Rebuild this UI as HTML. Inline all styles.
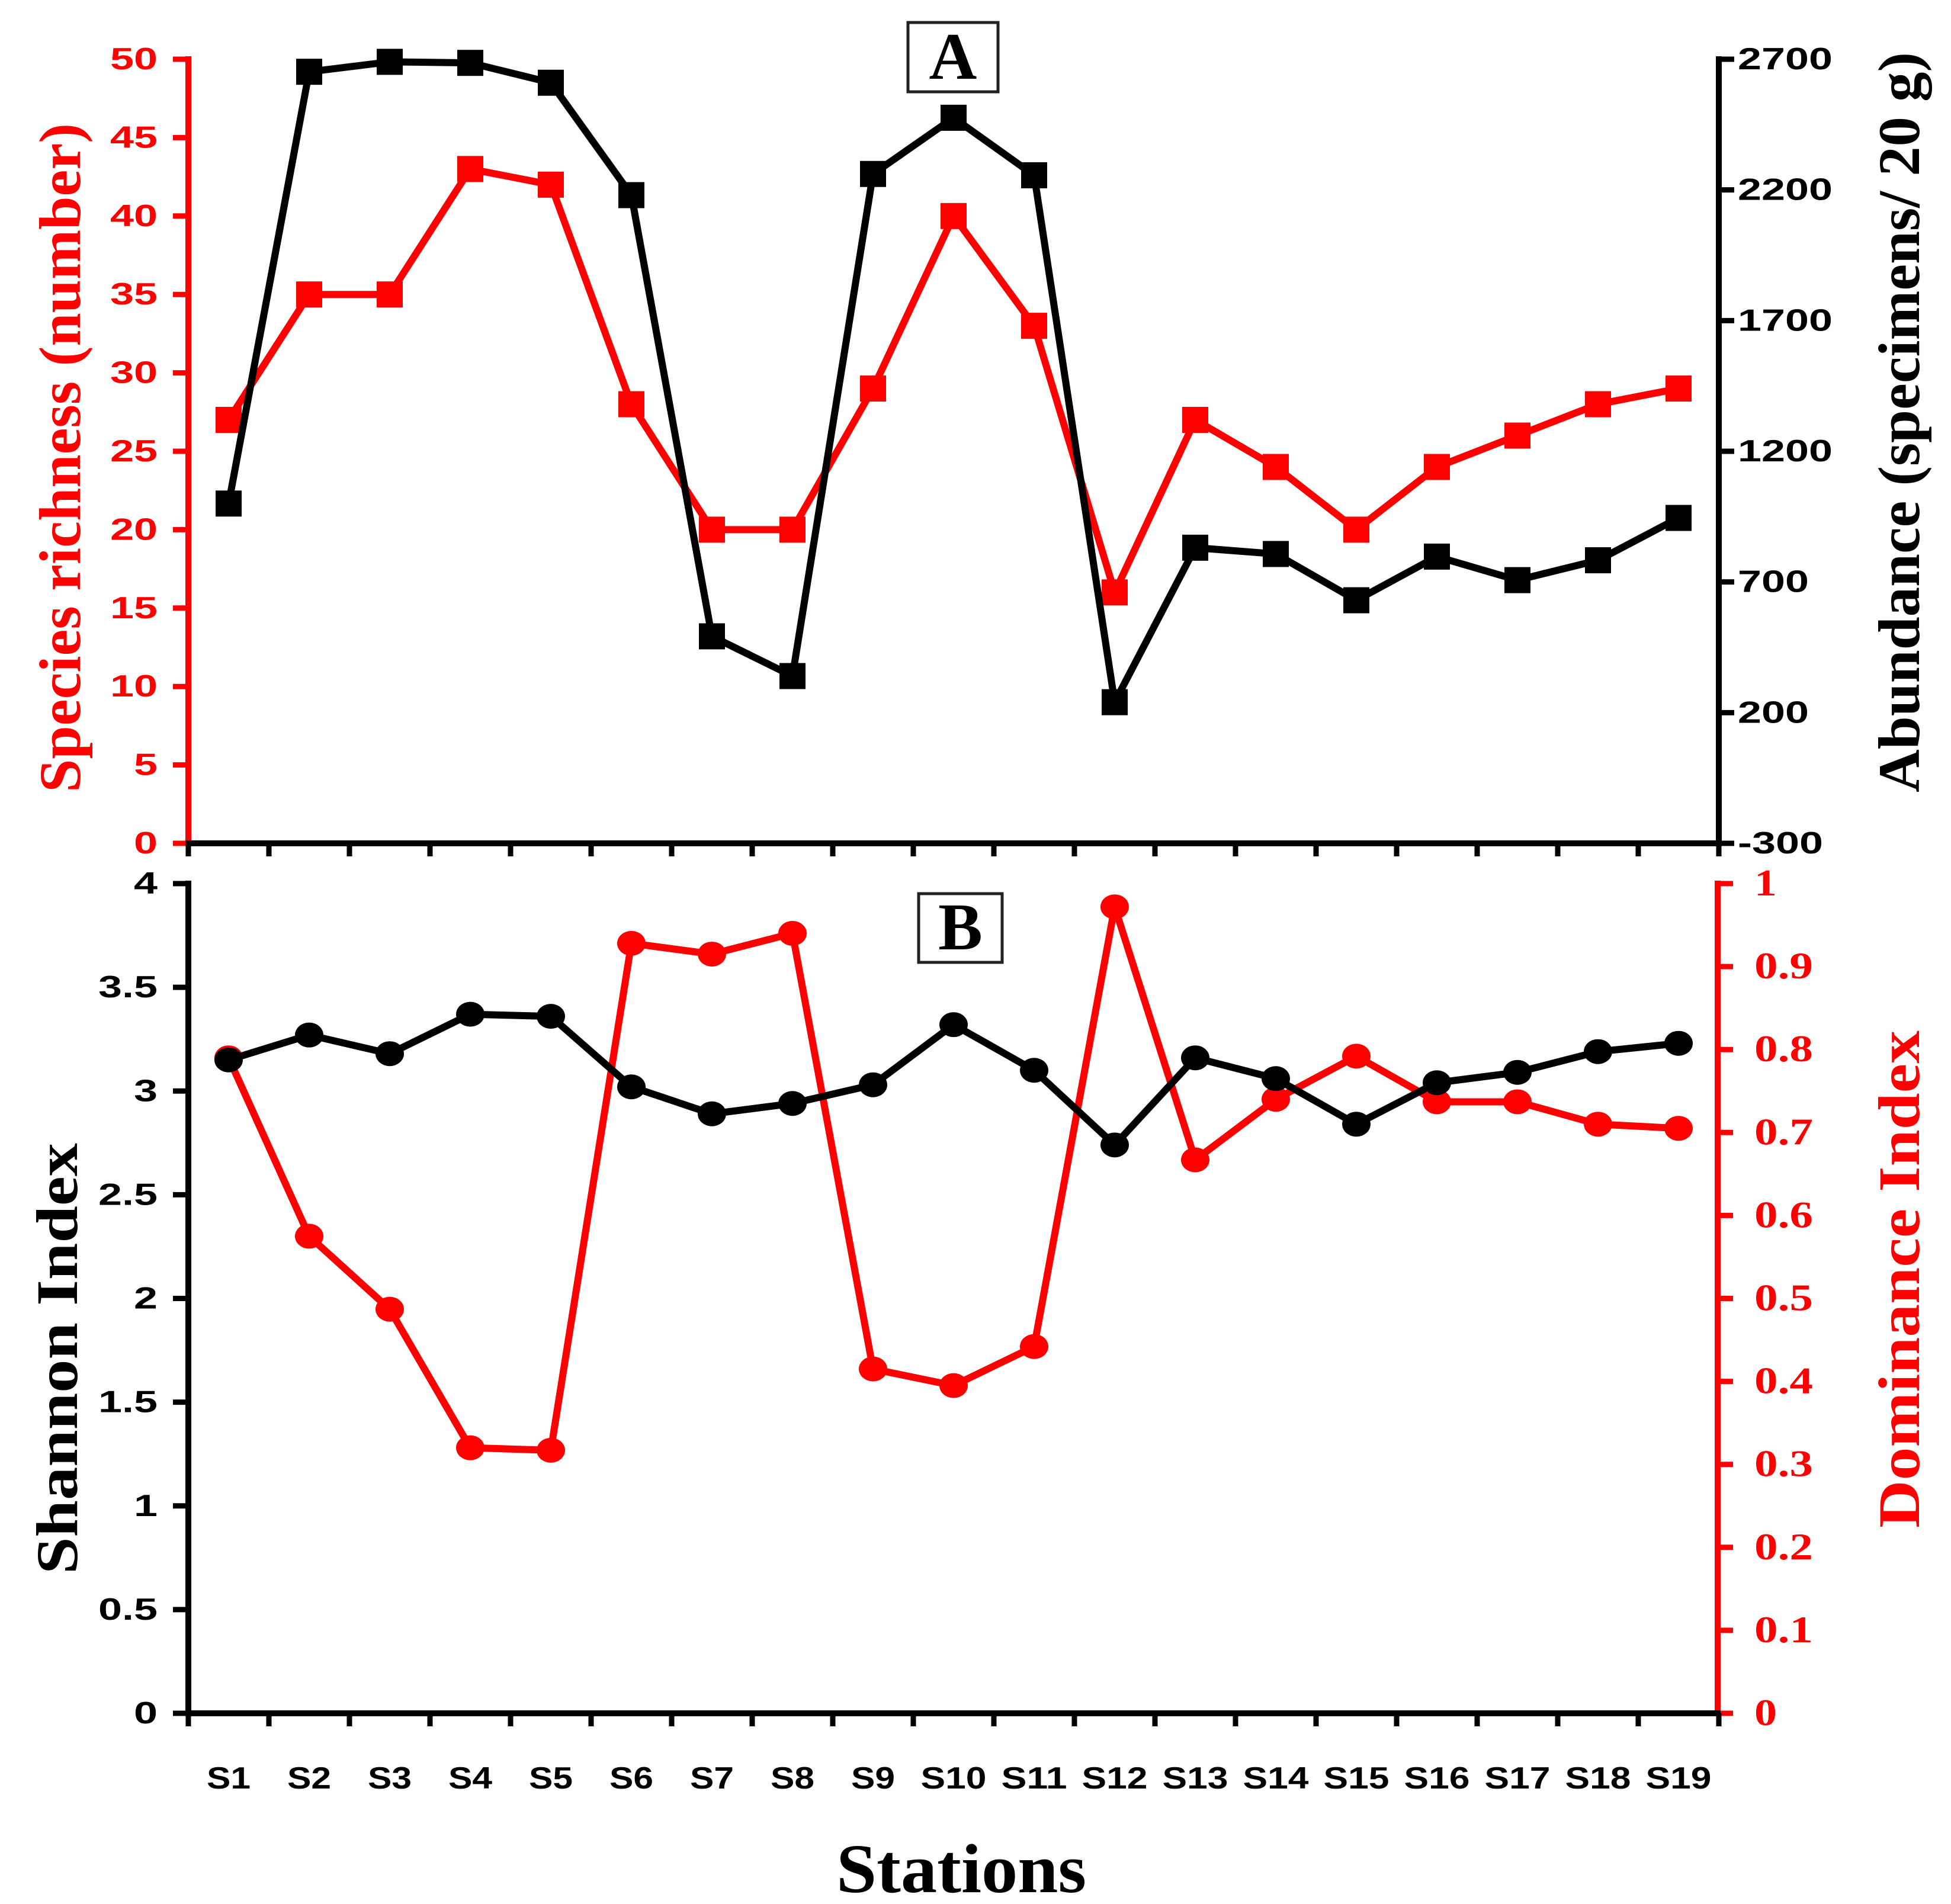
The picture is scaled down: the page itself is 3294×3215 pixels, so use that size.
<!DOCTYPE html>
<html><head><meta charset="utf-8"><style>
html,body{margin:0;padding:0;background:#fff}
svg{display:block}
.tk{font-family:"Liberation Sans",sans-serif;font-weight:bold;font-size:52px}
.ser{font-family:"Liberation Serif",serif;font-weight:bold}
</style></head><body>
<svg id="c" width="3294" height="3215" viewBox="0 0 3294 3215" xmlns="http://www.w3.org/2000/svg"></svg>
<script>
const stations=["S1","S2","S3","S4","S5","S6","S7","S8","S9","S10","S11","S12","S13","S14","S15","S16","S17","S18","S19"];
const richness=[27,35,35,43,42,28,20,20,29,40,33,16,27,24,20,24,26,28,29];
const abundance=[1000,2652,2690,2686,2610,2180,492,340,2261,2476,2256,240,831,807,630,797,707,783,945];
const shannon=[3.15,3.27,3.18,3.37,3.36,3.02,2.89,2.94,3.03,3.32,3.10,2.74,3.16,3.06,2.84,3.04,3.09,3.19,3.23];
const dominance=[0.79,0.575,0.487,0.32,0.317,0.928,0.915,0.94,0.415,0.395,0.442,0.972,0.667,0.74,0.792,0.737,0.737,0.71,0.705];
const richTicks=[0,5,10,15,20,25,30,35,40,45,50];
const abunTicks=[-300,200,700,1200,1700,2200,2700];
const shanTicks=["0","0.5","1","1.5","2","2.5","3","3.5","4"];
const domTicks=["0","0.1","0.2","0.3","0.4","0.5","0.6","0.7","0.8","0.9","1"];

const svg=document.getElementById('c');
const NS="http://www.w3.org/2000/svg";
function mk(tag,attrs,parent){const e=document.createElementNS(NS,tag);for(const k in attrs)e.setAttribute(k,attrs[k]);(parent||svg).appendChild(e);return e;}
function tlen(s,w,dot){let n=0;for(const ch of String(s))n+=(ch==='.'?dot:(ch==='-'?0.6:1));return Math.round(n*w);}
const L=318,band=136,R=L+band*19;
const xS=i=>L+band/2+band*i;
const yRich=v=>1424-(v-0)/50*(1424-100);
const yAbun=v=>1424-(v+300)/3000*(1424-100);
const yShan=v=>2893-v/4*(2893-1492);
const yDom=v=>2893-v*(2893-1492);
const RED="#ff0000";

let g=mk('g',{});


let e=mk('line',{x1:L,y1:95,x2:L,y2:1429,stroke:RED,'stroke-width':10},g);

richTicks.forEach(t=>{const y=yRich(t);
 mk('line',{x1:L-26,y1:y,x2:L,y2:y,stroke:RED,'stroke-width':9},g);
 const tx=mk('text',{x:266,y:y+17,'text-anchor':'end',fill:RED,class:'tk',textLength:tlen(t,40,0.5),lengthAdjust:'spacingAndGlyphs'},g);tx.textContent=t;
 });
e=mk('line',{x1:R,y1:95,x2:R,y2:1429,stroke:'#000','stroke-width':10},g);

abunTicks.forEach(t=>{const y=yAbun(t);
 mk('line',{x1:R,y1:y,x2:R+26,y2:y,stroke:'#000','stroke-width':9},g);
 const tx=mk('text',{x:R+32,y:y+17,'text-anchor':'start',fill:'#000',class:'tk',textLength:tlen(t,40,0.5),lengthAdjust:'spacingAndGlyphs'},g);tx.textContent=t;
 });
e=mk('line',{x1:L-5,y1:1424,x2:R+5,y2:1424,stroke:'#000','stroke-width':10},g);

for(let i=0;i<=19;i++)mk('line',{x1:L+band*i,y1:1424,x2:L+band*i,y2:1446,stroke:'#000','stroke-width':9},g);

function series(vals,xf,yf,color,shape,name){
 const pts=vals.map((v,i)=>xf(i)+','+yf(v)).join(' ');
 const pl=mk('polyline',{points:pts,fill:'none',stroke:color,'stroke-width':12,'stroke-linejoin':'round'});
 
 vals.forEach((v,i)=>{let m;
  if(shape==='sq')m=mk('rect',{x:xS(i)-22,y:yf(v)-22,width:44,height:44,fill:color});
  else m=mk('ellipse',{cx:xS(i),cy:yf(v),rx:24,ry:21,fill:color});
  });
}
series(richness,xS,yRich,RED,'sq','species-richness');
series(abundance,xS,yAbun,'#000','sq','abundance');

g=mk('g',{});


e=mk('line',{x1:L,y1:1487,x2:L,y2:2898,stroke:'#000','stroke-width':10},g);

shanTicks.forEach(t=>{const y=yShan(parseFloat(t));
 mk('line',{x1:L-26,y1:y,x2:L,y2:y,stroke:'#000','stroke-width':9},g);
 const tx=mk('text',{x:266,y:y+17,'text-anchor':'end',fill:'#000',class:'tk',textLength:tlen(t,40,0.5),lengthAdjust:'spacingAndGlyphs'},g);tx.textContent=t;
 });
const RB=R-2;
e=mk('line',{x1:RB,y1:1487,x2:RB,y2:2898,stroke:RED,'stroke-width':10},g);

domTicks.forEach(t=>{const y=yDom(parseFloat(t));
 mk('line',{x1:RB,y1:y,x2:RB+26,y2:y,stroke:RED,'stroke-width':9},g);
 const tx=mk('text',{x:RB+62,y:y+20,'text-anchor':'start',fill:RED,class:'ser','font-size':64,textLength:tlen(t,38,0.6),lengthAdjust:'spacingAndGlyphs'},g);tx.textContent=t;
 });
e=mk('line',{x1:L-5,y1:2893,x2:RB+5,y2:2893,stroke:'#000','stroke-width':10},g);

for(let i=0;i<=19;i++)mk('line',{x1:L+band*i,y1:2893,x2:L+band*i,y2:2915,stroke:'#000','stroke-width':9},g);
stations.forEach((s,i)=>{const tx=mk('text',{x:xS(i),y:3020,'text-anchor':'middle',fill:'#000',class:'tk',textLength:tlen(s,37,0.5),lengthAdjust:'spacingAndGlyphs'},g);tx.textContent=s;
 });
series(dominance,xS,yDom,RED,'ci','dominance');
series(shannon,xS,yShan,'#000','ci','shannon');

function box(x,y,w,h,t,name){const r=mk('rect',{x:x,y:y,width:w,height:h,fill:'#fff',stroke:'#222','stroke-width':5});
 
 const tx=mk('text',{x:x+w/2,y:y+h-22,'text-anchor':'middle',class:'ser','font-size':112,fill:'#000'});tx.textContent=t;
 }
box(1533,38,152,117,'A','panel-a-label');
box(1551,1509,141,116,'B','panel-b-label');

function vtitle(x,y,t,color,name,size,len){const tx=mk('text',{x:0,y:0,transform:`translate(${x},${y}) rotate(-90)`,'text-anchor':'middle',fill:color,class:'ser','font-size':size,textLength:len,lengthAdjust:'spacingAndGlyphs'});
 tx.textContent=t;}
vtitle(135,773,'Species richness (number)',RED,'species-richness-title',100,1130);
vtitle(3240,713,'Abundance (specimens/ 20 g)','#000','abundance-title',100,1250);
vtitle(130,2294,'Shannon Index','#000','shannon-title',100,728);
vtitle(3240,2160,'Dominance Index',RED,'dominance-title',100,840);
const xt=mk('text',{x:1623,y:3195,'text-anchor':'middle',class:'ser','font-size':118,fill:'#000',textLength:422,lengthAdjust:'spacingAndGlyphs'});xt.textContent='Stations';

</script>
</body></html>
